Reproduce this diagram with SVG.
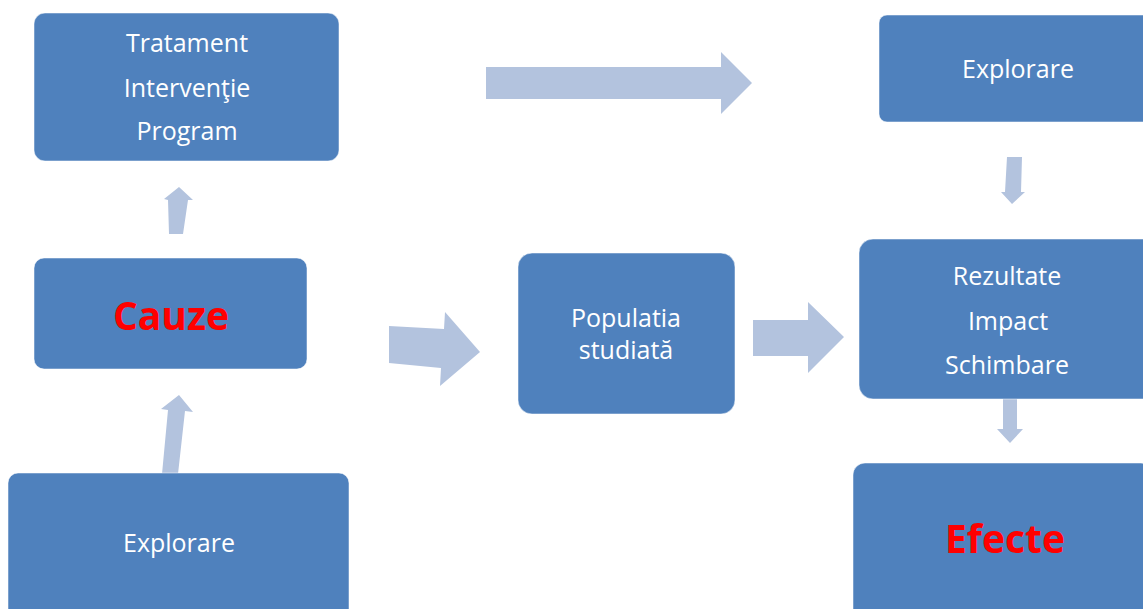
<svg xmlns="http://www.w3.org/2000/svg" width="1143" height="609" viewBox="0 0 1143 609">
<style>
.box{fill:#4F81BD;stroke:#ffffff;stroke-opacity:0.5;stroke-width:1}
.arr{fill:#B3C3DE}
.t{font-family:"Open Sans","Liberation Sans",sans-serif;font-size:25px;fill:#ffffff;text-anchor:middle}
.big{font-family:"Open Sans","Liberation Sans",sans-serif;font-size:39px;font-weight:bold;fill:#FF0000;text-anchor:middle}
</style>
<rect width="1143" height="609" fill="#ffffff"/>
<g id="connectors">
<polygon class="arr" points="486,67 721,67 721,52 752,83 721,114 721,99 486,99"/>
<polygon class="arr" points="389,326 444,329 445,312 480,352 440,386 441,368 389,363"/>
<polygon class="arr" points="753,320 808,320 808,302 844,337 808,373 808,356 753,356"/>
<polygon class="arr" points="169,234 168,200 164,199 179,187 193,200 188,200 183,234"/>
<polygon class="arr" points="162,474 168,410 161,409 179,395 193,412 185,411 178,474"/>
<polygon class="arr" points="1007,157 1022,157 1021,192 1025,192 1012,204 1001,192 1005,192"/>
<polygon class="arr" points="1003,398 1017,398 1017,429 1023,429 1010,443 997,429 1003,429"/>
</g>
<g id="n1">
<rect class="box" x="34" y="13" width="305" height="148" rx="11"/>
<text class="t" x="187" y="52">Tratament</text>
<text class="t" x="187" y="97">Intervenţie</text>
<text class="t" x="187" y="140">Program</text>
</g>
<g id="n2">
<rect class="box" x="34" y="258" width="273" height="111" rx="10"/>
<text class="big" x="171" y="330">Cauze</text>
</g>
<g id="n3">
<rect class="box" x="8" y="473" width="341" height="150" rx="10"/>
<text class="t" x="179" y="552">Explorare</text>
</g>
<g id="n4">
<rect class="box" x="518" y="253" width="217" height="161" rx="14"/>
<text class="t" x="626" y="327">Populatia</text>
<text class="t" x="626" y="359">studiată</text>
</g>
<g id="n5">
<rect class="box" x="879" y="15" width="280" height="107" rx="8"/>
<text class="t" x="1018" y="78">Explorare</text>
</g>
<g id="n6">
<rect class="box" x="859" y="239" width="300" height="160" rx="14"/>
<text class="t" x="1007" y="285">Rezultate</text>
<text class="t" x="1008" y="330">Impact</text>
<text class="t" x="1007" y="374">Schimbare</text>
</g>
<g id="n7">
<rect class="box" x="853" y="463" width="300" height="160" rx="12"/>
<text class="big" x="1005" y="553">Efecte</text>
</g>
</svg>
